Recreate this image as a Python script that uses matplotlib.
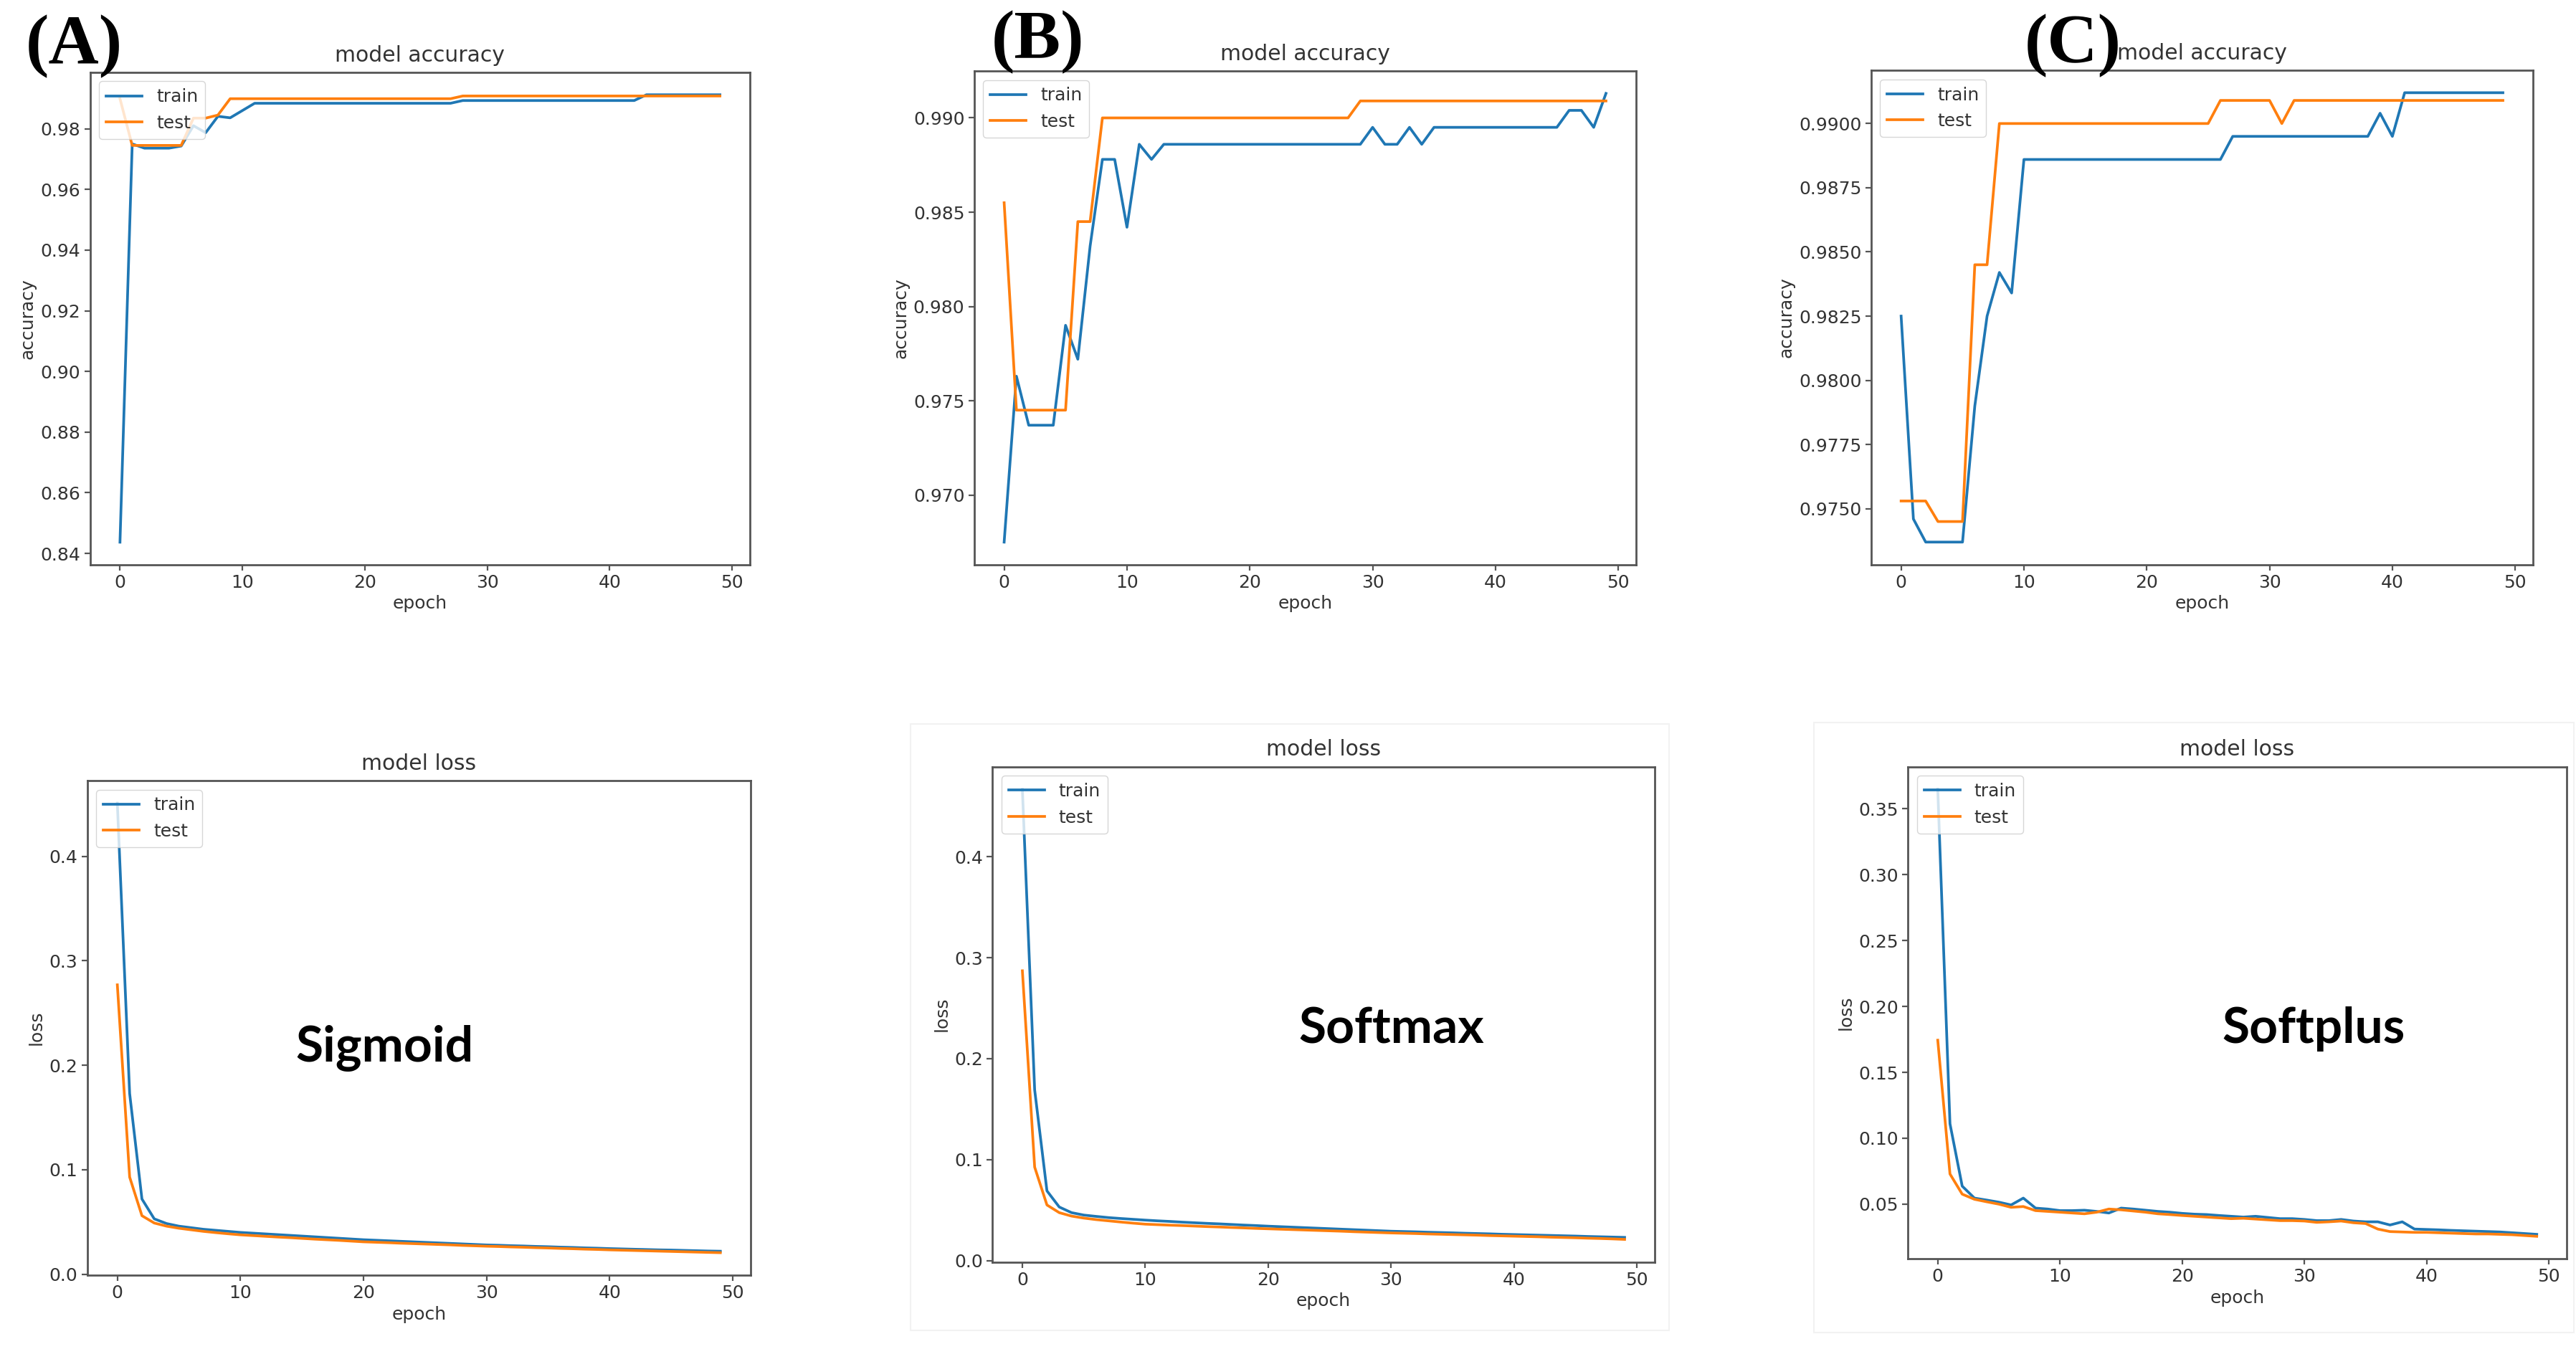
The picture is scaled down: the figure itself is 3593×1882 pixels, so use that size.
import numpy as np
import matplotlib
matplotlib.use("Agg")
import matplotlib.pyplot as plt
from matplotlib.patches import Rectangle

# keras history curves (50 epochs each)
epochs = list(range(50))

sig_acc_train = [0.8437, 0.9750, 0.9736, 0.9736, 0.9736, 0.9743, 0.9810, 0.9787, 0.9841, 0.9836, 0.9860] \
    + [0.9884] * 17 + [0.9893] * 15 + [0.9912] * 7
sig_acc_test = [0.9899, 0.9745, 0.9745, 0.9745, 0.9745, 0.9745, 0.9835, 0.9835, 0.9845] \
    + [0.9899] * 19 + [0.9908] * 22

sig_loss_train = [0.451, 0.173, 0.072, 0.053, 0.0485, 0.046, 0.0445, 0.043, 0.042, 0.041,
                  0.040, 0.0393, 0.0386, 0.0379, 0.0372, 0.0365, 0.0358, 0.0351, 0.0344, 0.0337,
                  0.033, 0.0325, 0.032, 0.0315, 0.031, 0.0305, 0.030, 0.0295, 0.029, 0.0285,
                  0.028, 0.0277, 0.0273, 0.027, 0.0266, 0.0263, 0.0259, 0.0256, 0.0252, 0.0249,
                  0.0245, 0.0242, 0.0239, 0.0236, 0.0233, 0.0231, 0.0228, 0.0225, 0.0222, 0.022]
sig_loss_test = [0.277, 0.093, 0.056, 0.049, 0.046, 0.044, 0.0425, 0.041, 0.0398, 0.0387,
                 0.0377, 0.037, 0.0363, 0.0356, 0.035, 0.0343, 0.0336, 0.033, 0.0324, 0.0317,
                 0.031, 0.0306, 0.0302, 0.0297, 0.0293, 0.0289, 0.0285, 0.0281, 0.0276, 0.0272,
                 0.0268, 0.0265, 0.0261, 0.0258, 0.0254, 0.0251, 0.0247, 0.0244, 0.024, 0.0237,
                 0.0233, 0.023, 0.0227, 0.0224, 0.0221, 0.0218, 0.0215, 0.0212, 0.0209, 0.0206]

smx_acc_train = [0.9675, 0.9763, 0.9737, 0.9737, 0.9737, 0.9790, 0.9772, 0.9832, 0.9878, 0.9878,
                 0.9842, 0.9886, 0.9878, 0.9886] + [0.9886] * 16 \
    + [0.9895, 0.9886, 0.9886, 0.9895, 0.9886] + [0.9895] * 11 + [0.9904, 0.9904, 0.9895, 0.9913]
smx_acc_test = [0.9855, 0.9745, 0.9745, 0.9745, 0.9745, 0.9745, 0.9845, 0.9845] \
    + [0.9900] * 21 + [0.9909] * 21

smx_loss_train = [0.467, 0.169, 0.069, 0.053, 0.0474, 0.045, 0.0437, 0.0425, 0.0416, 0.0408,
                  0.040, 0.0393, 0.0387, 0.038, 0.0374, 0.0368, 0.0363, 0.0357, 0.0351, 0.0346,
                  0.034, 0.0335, 0.033, 0.0325, 0.032, 0.0315, 0.031, 0.0305, 0.030, 0.0295,
                  0.029, 0.0287, 0.0284, 0.028, 0.0277, 0.0274, 0.027, 0.0267, 0.0264, 0.026,
                  0.0257, 0.0254, 0.0251, 0.0248, 0.0245, 0.0242, 0.0238, 0.0235, 0.0232, 0.0229]
smx_loss_test = [0.287, 0.0925, 0.055, 0.0474, 0.044, 0.042, 0.0405, 0.0393, 0.0381, 0.037,
                 0.036, 0.0355, 0.035, 0.0346, 0.0341, 0.0336, 0.0332, 0.0327, 0.0323, 0.0318,
                 0.0314, 0.031, 0.0306, 0.0302, 0.0298, 0.0294, 0.029, 0.0285, 0.0281, 0.0277,
                 0.0273, 0.027, 0.0267, 0.0263, 0.026, 0.0257, 0.0254, 0.0251, 0.0247, 0.0244,
                 0.0241, 0.0238, 0.0235, 0.0231, 0.0228, 0.0225, 0.0221, 0.0218, 0.0214, 0.0209]

spl_acc_train = [0.9825, 0.9746, 0.9737, 0.9737, 0.9737, 0.9737, 0.9790, 0.9825, 0.9842, 0.9834] \
    + [0.9886] * 17 + [0.9895] * 12 + [0.9904, 0.9895] + [0.9912] * 9
spl_acc_test = [0.9753, 0.9753, 0.9753, 0.9745, 0.9745, 0.9745, 0.9845, 0.9845] \
    + [0.9900] * 18 + [0.9909] * 5 + [0.9900] + [0.9909] * 18

spl_loss_train = [0.365, 0.111, 0.0637, 0.0546, 0.0531, 0.0515, 0.0494, 0.0546, 0.047, 0.0463,
                  0.0451, 0.0451, 0.0454, 0.0445, 0.0433, 0.047, 0.0463, 0.0454, 0.0445, 0.0439,
                  0.043, 0.0424, 0.0421, 0.0414, 0.0408, 0.0402, 0.0408, 0.0399, 0.039, 0.039,
                  0.0384, 0.0375, 0.0375, 0.0384, 0.0372, 0.0366, 0.0366, 0.0342, 0.0366, 0.0311,
                  0.0308, 0.0305, 0.0301, 0.0298, 0.0295, 0.0292, 0.0289, 0.0283, 0.0277, 0.0271]
spl_loss_test = [0.1744, 0.0729, 0.0576, 0.0537, 0.0518, 0.050, 0.0476, 0.0482, 0.0451, 0.0445,
                 0.0439, 0.0433, 0.0427, 0.0439, 0.0463, 0.0457, 0.0448, 0.0439, 0.0427, 0.0421,
                 0.0414, 0.0408, 0.0402, 0.0396, 0.039, 0.0393, 0.0387, 0.0381, 0.0375, 0.0375,
                 0.0372, 0.0362, 0.0366, 0.0372, 0.0359, 0.0353, 0.0311, 0.0292, 0.0289, 0.0286,
                 0.0286, 0.0283, 0.028, 0.0277, 0.0274, 0.0274, 0.0271, 0.0268, 0.0262, 0.0256]

panel_letters = ["(A)", "(B)", "(C)"]
act_names = ["Sigmoid", "Softmax", "Softplus"]

W, H = 3593, 1882

plt.rcParams["font.family"] = ["DejaVu Sans"]
plt.rcParams["font.size"] = 18
plt.rcParams["axes.titlesize"] = 21.5
plt.rcParams["axes.titlepad"] = 11
plt.rcParams["axes.edgecolor"] = "#555555"
plt.rcParams["axes.linewidth"] = 2.0
plt.rcParams["xtick.major.size"] = 6
plt.rcParams["ytick.major.size"] = 6
plt.rcParams["xtick.major.width"] = 1.6
plt.rcParams["ytick.major.width"] = 1.6
plt.rcParams["xtick.color"] = "#555555"
plt.rcParams["ytick.color"] = "#555555"
plt.rcParams["xtick.labelcolor"] = "#333333"
plt.rcParams["ytick.labelcolor"] = "#333333"
plt.rcParams["text.color"] = "#333333"
plt.rcParams["axes.labelcolor"] = "#333333"
plt.rcParams["lines.linewidth"] = 2.7


def px_axes(fig, left, right, top, bottom):
    # box given in pixels of the 3593x1882 picture
    return fig.add_axes([left / W, 1 - bottom / H, (right - left) / W, (bottom - top) / H])


def history_plot(ax, train, test, title, ylabel):
    ax.plot(epochs, train, color="#1f77b4")
    ax.plot(epochs, test, color="#ff7f0e")
    ax.set_title(title)
    ax.set_ylabel(ylabel)
    ax.set_xlabel("epoch")
    ax.legend(["train", "test"], loc="upper left", fontsize=18)


fig = plt.figure(figsize=(W / 100, H / 100), dpi=100)

# faint screenshot borders around the lower (B) and (C) pictures
for (x0, y0, x1, y1) in [(1270, 1010, 2328, 1856), (2530, 1008, 3590, 1859)]:
    fig.add_artist(Rectangle((x0 / W, 1 - y1 / H), (x1 - x0) / W, (y1 - y0) / H,
                             transform=fig.transFigure, fill=False,
                             edgecolor="#f2f2f2", linewidth=1.5))

acc_boxes = [(125.5, 1046, 101, 787.6), (1358.6, 2282, 99, 787.6), (2609.7, 3533, 98, 787.6)]
loss_boxes = [(121.6, 1046.8, 1089, 1779), (1384, 2308, 1069.5, 1760.5), (2661, 3580, 1069.5, 1756)]

acc_series = [(sig_acc_train, sig_acc_test), (smx_acc_train, smx_acc_test), (spl_acc_train, spl_acc_test)]
loss_series = [(sig_loss_train, sig_loss_test), (smx_loss_train, smx_loss_test), (spl_loss_train, spl_loss_test)]

for i in range(3):
    ax = px_axes(fig, *acc_boxes[i])
    history_plot(ax, acc_series[i][0], acc_series[i][1], "model accuracy", "accuracy")
    if i == 2:
        ax.yaxis.set_major_formatter(matplotlib.ticker.FormatStrFormatter("%.4f"))

    ax = px_axes(fig, *loss_boxes[i])
    history_plot(ax, loss_series[i][0], loss_series[i][1], "model loss", "loss")
    if i == 2:
        ax.yaxis.set_major_formatter(matplotlib.ticker.FormatStrFormatter("%.2f"))

# panel letters and activation names pasted on top
letter_pos = [(36, 88), (1383, 82), (2824, 87)]
for (x, y), s in zip(letter_pos, panel_letters):
    fig.text(x / W, 1 - y / H, s, family="Liberation Serif", fontweight="bold",
             fontsize=70, color="black", ha="left", va="baseline")

name_pos = [(536, 1481), (1941, 1455), (3227, 1455)]
for (x, y), s in zip(name_pos, act_names):
    fig.text(x / W, 1 - y / H, s, family="Lato", fontweight="bold",
             fontsize=50, color="black", ha="center", va="baseline")

fig.savefig("out.png", dpi=100)
